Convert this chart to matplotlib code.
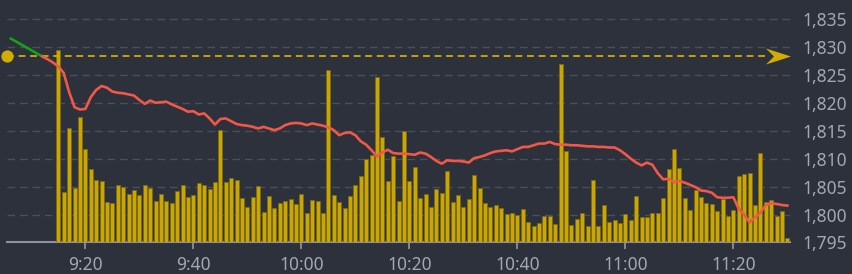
import numpy as np
import matplotlib
matplotlib.use("Agg")
import matplotlib.pyplot as plt
import matplotlib.transforms as mtransforms
from matplotlib.path import Path
from matplotlib.ticker import FuncFormatter

plt.rcParams["font.family"] = ["Noto Sans", "DejaVu Sans"]

# ---------------------------------------------------------------------------
# Data (time axis = minutes after 9:00)
# ---------------------------------------------------------------------------

# pre-open segment (green)
pre_t = [6, 12]
pre_price = [1831.6, 1828.3]

# one price per minute, 9:12 .. 11:30 (red)
price_t = np.arange(12, 151)
price = [
    1828.3, 1827.8, 1827.2, 1826.5, 1825.3, 1821.9, 1819.2, 1818.8, 1818.9, 1821.0,
    1822.3, 1823.0, 1822.7, 1822.0, 1821.8, 1821.7, 1821.5, 1821.3, 1820.5, 1819.8,
    1820.4, 1820.0, 1820.1, 1820.2, 1819.7, 1819.3, 1818.9, 1818.4, 1818.5, 1817.9,
    1818.1, 1817.2, 1816.1, 1817.1, 1817.2, 1816.7, 1816.2, 1816.0, 1815.9, 1815.7,
    1815.4, 1815.7, 1815.4, 1815.1, 1815.4, 1816.0, 1816.3, 1816.4, 1816.3, 1816.0,
    1816.3, 1816.1, 1815.9, 1815.6, 1815.1, 1814.2, 1814.6, 1814.7, 1814.2, 1813.1,
    1812.5, 1811.5, 1810.4, 1811.1, 1811.6, 1811.0, 1810.9, 1810.9, 1810.8, 1810.7,
    1811.1, 1810.9, 1810.3, 1809.6, 1809.1, 1809.7, 1809.6, 1809.6, 1809.5, 1809.3,
    1810.1, 1810.3, 1810.6, 1811.0, 1811.3, 1811.4, 1811.5, 1811.3, 1811.7, 1812.1,
    1812.1, 1812.4, 1812.7, 1812.7, 1813.0, 1812.6, 1812.5, 1812.5, 1812.4, 1812.4,
    1812.3, 1812.2, 1812.2, 1812.1, 1812.1, 1812.0, 1812.0, 1811.5, 1810.8, 1810.0,
    1809.3, 1808.8, 1809.3, 1808.9, 1807.4, 1806.3, 1806.4, 1805.8, 1806.0, 1805.7,
    1805.3, 1804.9, 1804.3, 1804.2, 1803.9, 1803.1, 1803.0, 1803.0, 1803.1, 1801.0,
    1800.0, 1798.6, 1799.5, 1800.3, 1801.7, 1802.0, 1801.9, 1801.7, 1801.6,
]

# one volume bar per minute, 9:15 .. 11:30 (arbitrary units)
bar_t = np.arange(15, 151)
volume = [
    192, 50, 114, 54, 125, 93, 73, 62, 61.5, 40,
    39, 57, 55, 48, 52, 47.5, 57, 54.5, 41, 48,
    41, 39, 51, 57, 45, 47.5, 59, 57, 53, 60,
    112, 60, 64.5, 62, 44, 35, 45, 56.5, 30.5, 46,
    34, 39, 41, 43, 38, 48, 29, 42.5, 41, 29,
    172.5, 47.5, 40, 34, 46, 57, 66, 83, 87, 165.5,
    105, 61, 86, 41, 111, 61, 75, 44.5, 48.5, 35.5,
    53, 49, 71, 40, 47.5, 35.5, 43, 67, 54.5, 39,
    35.5, 37, 34, 28, 29.5, 27, 33, 20, 16.5, 19.5,
    26, 26.5, 18.5, 178.5, 91, 17.5, 23, 29, 16.5, 62,
    16, 37, 20, 22, 19.5, 28, 22.5, 46, 25.5, 25.5,
    29, 29, 44, 73.5, 93, 74, 44, 32, 52.5, 45,
    39, 38.5, 31, 43.5, 26, 32.5, 66.5, 68.5, 69, 37,
    89, 40.5, 42, 26.5, 31, 4.5,
]

prev_close = 1828.4

tick_t = [20, 40, 60, 80, 100, 120, 140]
tick_labels = ["9:20", "9:40", "10:00", "10:20", "10:40", "11:00", "11:20"]
price_ticks = [1795, 1800, 1805, 1810, 1815, 1820, 1825, 1830, 1835]

assert len(price) == len(price_t)
assert len(volume) == len(bar_t)

# ---------------------------------------------------------------------------
# Style
# ---------------------------------------------------------------------------
BG = "#2d313c"
GRID = "#4a4f5b"
AXIS = "#8c919b"
TEXT = "#a3a7b0"
YELLOW = "#d2ad00"
BAR = "#c9a600"
BAR_EDGE = "#7a6914"
RED = "#f15848"
GREEN = "#13a313"

fig = plt.figure(figsize=(8.53, 2.74), dpi=100, facecolor=BG)
ax = fig.add_axes([0.0086, 0.115, 0.917, 0.8485], facecolor=BG)

ax.set_xlim(5.55, 150.4)
ax.set_ylim(1795, 1836.6)

# --- volume bars (own scale, hidden) ---
axv = ax.twinx()
axv.bar(bar_t, volume, width=0.72, color=BAR, edgecolor=BAR_EDGE, linewidth=0.6)
axv.set_ylim(0, 232.5)
axv.axis("off")

# --- layer for price line / previous close ---
axl = ax.twinx()
axl.set_ylim(ax.get_ylim())
axl.axis("off")

# grid + ticks (price scale on the right); twinx moved ticks left, put them back
ax.set_yticks(price_ticks)
ax.yaxis.set_major_formatter(FuncFormatter(lambda v, p: f"{v:,.0f}"))
ax.yaxis.tick_right()
ax.grid(axis="y", color=GRID, linestyle=(0, (5.5, 3.5)), linewidth=1.0)
ax.tick_params(axis="y", which="both", left=False, right=False,
               labelleft=False, labelright=True,
               length=0, pad=9.5, labelsize=12.5, labelcolor=TEXT)

ax.set_xticks(tick_t)
ax.set_xticklabels(tick_labels)
ax.tick_params(axis="x", length=5, width=1.3, color=AXIS, pad=4.5,
               labelsize=12.5, labelcolor=TEXT)

for side in ["top", "left", "right"]:
    ax.spines[side].set_visible(False)
ax.spines["bottom"].set_color(AXIS)
ax.spines["bottom"].set_linewidth(1.5)

blend = mtransforms.blended_transform_factory(axl.transAxes, axl.transData)
axl.plot([0, 0.969], [prev_close, prev_close], color=YELLOW, linewidth=1.3,
         linestyle=(0, (3.8, 2.6)), transform=blend)
axl.plot([0], [prev_close], "o", markersize=8.8, color=YELLOW,
         markeredgewidth=0, transform=blend, clip_on=False)

arrow = Path([(1, 0), (-1, 0.64), (-0.36, 0), (-1, -0.64), (1, 0)],
             [Path.MOVETO, Path.LINETO, Path.LINETO, Path.LINETO, Path.CLOSEPOLY])
axl.plot([0.9847], [prev_close], marker=arrow, markersize=18, color=YELLOW,
         markeredgewidth=0, linestyle="none", transform=blend, clip_on=False)

axl.plot(pre_t, pre_price, color=GREEN, linewidth=1.9, solid_capstyle="butt")
axl.plot(price_t, price, color=RED, linewidth=1.9, solid_joinstyle="round")

fig.savefig("out.png", dpi=100, facecolor=BG)
